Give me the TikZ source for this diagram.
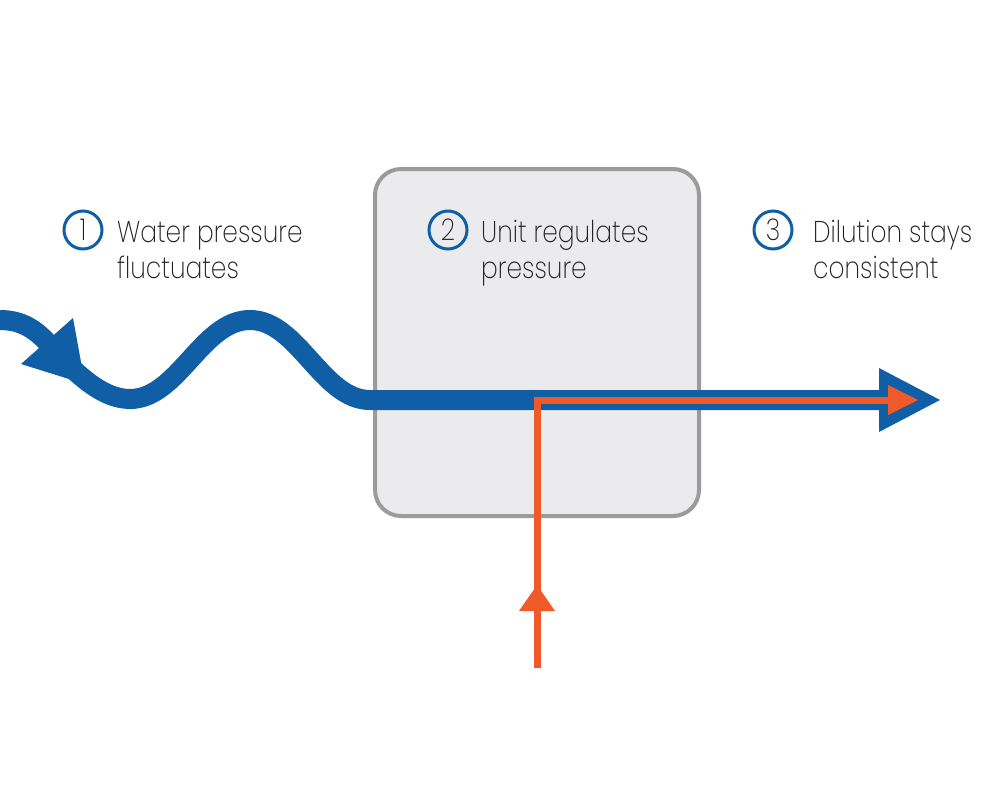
\documentclass[tikz,border=0pt]{standalone}
\usepackage{fontspec}
\IfFontExistsTF{Poppins ExtraLight}{\setmainfont{Poppins ExtraLight}[FakeStretch=0.83]}{%
 \IfFontExistsTF{Poppins Light}{\setmainfont{Poppins Light}[FakeStretch=0.83]}{\setmainfont{Poppins}[FakeStretch=0.83]}}
\definecolor{flowblue}{HTML}{105EA6}
\definecolor{floworange}{HTML}{F05A28}
\definecolor{boxfill}{HTML}{EBEBED}
\definecolor{boxline}{HTML}{9B9B9B}
\definecolor{txt}{HTML}{231F20}
\tikzset{
  unitbox/.style={fill=boxfill,draw=boxline,line width=4pt,rounded corners=26pt},
  numcircle/.style={circle,draw=flowblue,line width=3pt,minimum size=38pt,inner sep=0pt,text=txt,font=\fontsize{30}{30}\selectfont},
  label/.style={anchor=base west,inner sep=0pt,text=txt,font=\fontsize{30}{36}\selectfont},
  bluepipe/.style={draw=flowblue,line width=20pt,line cap=butt},
  orangepipe/.style={draw=floworange,line width=7pt,line cap=butt,line join=miter},
}
\begin{document}
\begin{tikzpicture}[x=1pt,y=-1pt]
\useasboundingbox (0,0) rectangle (1000,800);
% regulating unit
\draw[unitbox] (375,169) rectangle (699,516);
% numbered labels
\node[numcircle] (n1) at (83,230) {1};
\node[numcircle] (n2) at (448,230) {2};
\node[numcircle] (n3) at (773,230) {3};
\node[label] (t1a) at (117,242) {Water pressure};
\node[label] (t1b) at (117,278) {fluctuates};
\node[label] (t2a) at (481,242) {Unit regulates};
\node[label] (t2b) at (481,278) {pressure};
\node[label] (t3a) at (813,242) {Dilution stays};
\node[label] (t3b) at (813,278) {consistent};
% blue flow
\coordinate (bStart) at (0,320);
\coordinate (bHead) at (45,340);
\coordinate (bTrough1) at (130,399);
\coordinate (bCrest) at (250,320);
\coordinate (bTrough2) at (370,400);
\coordinate (bEnd) at (882,400);
\draw[bluepipe] (bStart) .. controls (20,320) and (33,328) .. (bHead)
  .. controls (72,370) and (100,399) .. (bTrough1)
  .. controls (178,399) and (202,320) .. (bCrest)
  .. controls (298,320) and (322,400) .. (bTrough2) -- (bEnd);
\fill[flowblue] (73,318) -- (21,364) -- (85,384) -- cycle;
\fill[flowblue] (879,368) -- (879,432) -- (940,400) -- cycle;
% orange flow
\coordinate (oStart) at (537,668);
\coordinate (oCorner) at (537,400);
\coordinate (oEnd) at (890,400);
\draw[orangepipe] (oStart) -- (oCorner) -- (oEnd);
\fill[floworange] (537,585) -- (519,611) -- (555,611) -- cycle;
\fill[floworange] (888,385) -- (888,415) -- (918,400) -- cycle;
\end{tikzpicture}
\end{document}
